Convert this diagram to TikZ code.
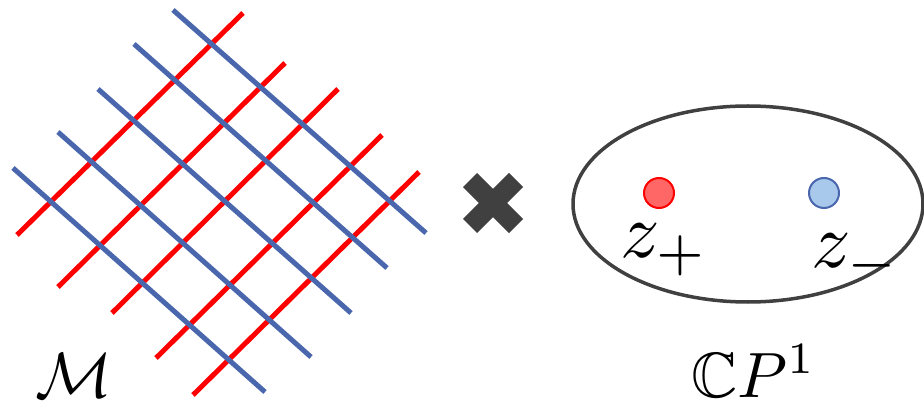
\documentclass[tikz,border=0pt]{standalone}
\usepackage{amssymb}
\usetikzlibrary{calc}
\definecolor{gridred}{HTML}{FF0000}
\definecolor{gridblue}{HTML}{4A67AE}
\definecolor{darkgray}{HTML}{404040}
\definecolor{dotred}{HTML}{FF6666}
\definecolor{dotblue}{HTML}{A8C8EC}
\tikzset{
  redline/.style={draw=gridred, line width=5pt},
  blueline/.style={draw=gridblue, line width=5pt},
  crossarm/.style={draw=darkgray, line width=20pt, line cap=butt},
  sphere/.style={draw=darkgray, line width=3.5pt},
  reddot/.style={circle, minimum size=30pt, inner sep=0pt, fill=dotred, draw=gridred, line width=2pt},
  bluedot/.style={circle, minimum size=30pt, inner sep=0pt, fill=dotblue, draw=gridblue, line width=2pt},
  bigmath/.style={inner sep=0pt, anchor=base west, scale=7.8},
  labelmath/.style={inner sep=0pt, anchor=base west, scale=6.4}
}
\begin{document}
\begin{tikzpicture}[x=1pt, y=-1pt]
\useasboundingbox (0,0) rectangle (924,406);
% red lines
\draw[redline] (17,235) -- (243,13);
\draw[redline] (58,287) -- (285,63);
\draw[redline] (112,313) -- (338,89);
\draw[redline] (156,358) -- (382,135);
\draw[redline] (193,395) -- (419,172);
% blue lines
\draw[blueline] (173,10) -- (426,233);
\draw[blueline] (134,44) -- (387,268);
\draw[blueline] (98,89) -- (351,313);
\draw[blueline] (58,132) -- (311,357);
\draw[blueline] (13,168) -- (265,392);
\node[labelmath] (M) at (34,397) {$\mathcal{M}$};
% cross
\coordinate (X) at (493,203);
\draw[crossarm] ($(X)+(-23,-23)$) -- ($(X)+(23,23)$);
\draw[crossarm] ($(X)+(-23,23)$) -- ($(X)+(23,-23)$);
% sphere
\draw[sphere] (748,204) ellipse [x radius=175, y radius=98];
\node[reddot] (zp) at (659,193) {};
\node[bluedot] (zm) at (824,193) {};
\node[bigmath] (lp) at (619,258) {$z_+$};
\node[bigmath] (lm) at (810,268) {$z_-$};
\node[labelmath] (cp) at (690,397) {$\mathbb{C}P^1$};
\end{tikzpicture}
\end{document}
